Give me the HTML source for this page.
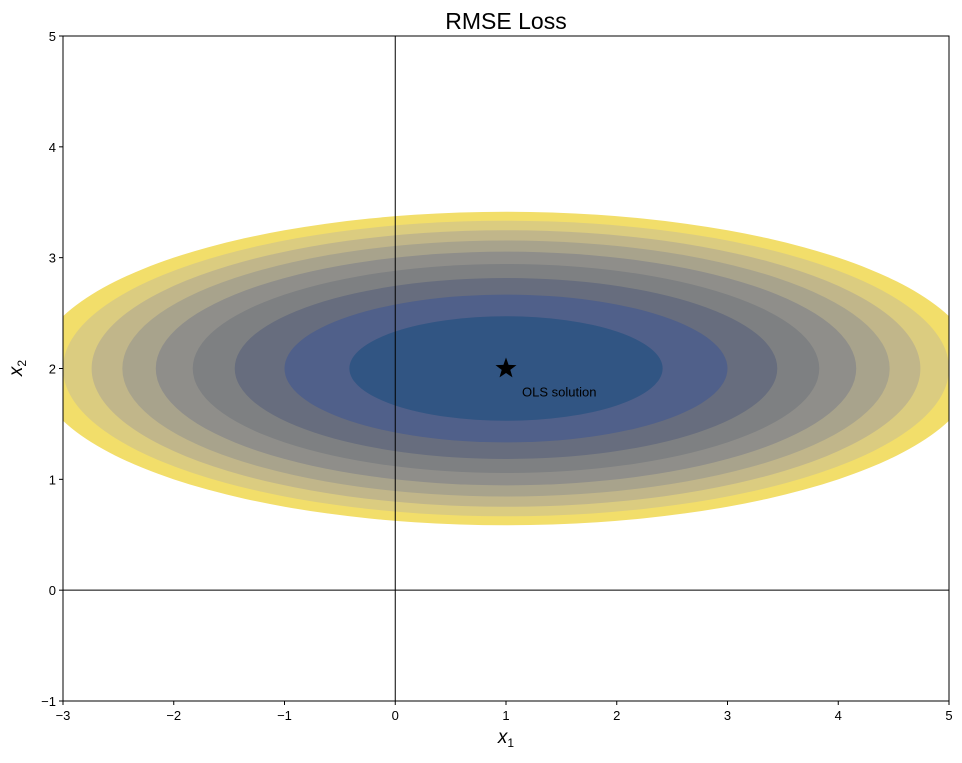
<!DOCTYPE html>
<html><head><meta charset="utf-8"><style>
body{margin:0;background:#fff;}
svg text{font-family:"Liberation Sans","DejaVu Sans",sans-serif;}
</style></head><body>
<svg id="chart" width="962" height="758" xmlns="http://www.w3.org/2000/svg">
<defs><clipPath id="plotclip"><rect x="63" y="36" width="886" height="665"/></clipPath></defs>
<g id="contours" clip-path="url(#plotclip)"></g>
<g id="axes"></g>
</svg>
<script>
const levels = [18, 16, 14, 12, 10, 8, 6, 4, 2];
const levelColors = ["#f2de6a","#dbcc80","#c1b68a","#a8a38c","#8f8e8a","#7e8082","#676d7e","#50608a","#315583"];
const center = [1, 2];
const xTicks = [-3,-2,-1,0,1,2,3,4,5];
const yTicks = [-1,0,1,2,3,4,5];
const ns = "http://www.w3.org/2000/svg";
const X0=63,X1=949,Y0=701,Y1=36;
const sx = v => X0 + (v - (-3)) / 8 * (X1 - X0);
const sy = v => Y0 - (v - (-1)) / 6 * (Y0 - Y1);
function mk(tag, attrs, parent){const e=document.createElementNS(ns,tag);for(const k in attrs)e.setAttribute(k,attrs[k]);parent.appendChild(e);return e;}
const cg=document.getElementById('contours');
levels.forEach((lv,i)=>{
  const rx=Math.sqrt(lv), ry=Math.sqrt(lv)/3;
  const e=mk('ellipse',{cx:sx(center[0]),cy:sy(center[1]),rx:sx(center[0]+rx)-sx(center[0]),ry:sy(center[1])-sy(center[1]+ry),fill:levelColors[i]},cg);
  
  
});
const ag=document.getElementById('axes');
let l=mk('line',{x1:sx(0),x2:sx(0),y1:Y1,y2:Y0,stroke:'#000','stroke-width':1},ag);


l=mk('line',{x1:X0,x2:X1,y1:sy(0),y2:sy(0),stroke:'#000','stroke-width':1},ag);


let r=mk('rect',{x:X0,y:Y1,width:X1-X0,height:Y0-Y1,fill:'none',stroke:'#000','stroke-width':1},ag);


xTicks.forEach(v=>{
  const x=sx(v);
  const t=mk('line',{x1:x,x2:x,y1:Y0,y2:Y0+4,stroke:'#000'},ag);
  
  
  const tx=mk('text',{x:x,y:Y0+19,'text-anchor':'middle','font-size':13},ag);
  tx.textContent=(v<0?'\u2212'+(-v):v);
  
  
});
yTicks.forEach(v=>{
  const y=sy(v);
  const t=mk('line',{x1:X0-4,x2:X0,y1:y,y2:y,stroke:'#000'},ag);
  
  
  const tx=mk('text',{x:X0-7,y:y+5,'text-anchor':'end','font-size':13},ag);
  tx.textContent=(v<0?'\u2212'+(-v):v);
  
  
});
const cx=sx(center[0]), cy=sy(center[1]);
let pts=[];for(let k=0;k<10;k++){const a=-Math.PI/2+k*Math.PI/5;const rr=k%2?4.5:11;pts.push((cx+rr*Math.cos(a)).toFixed(1)+','+(cy+rr*Math.sin(a)).toFixed(1));}
const st=mk('polygon',{points:pts.join(' '),fill:'#000'},ag);


const ol=mk('text',{x:cx+16,y:cy+28,'font-size':13},ag);
ol.textContent='OLS solution';


</script>
<svg style="position:absolute;left:0;top:0" width="962" height="758" xmlns="http://www.w3.org/2000/svg">
<text x="506" y="29" text-anchor="middle" font-size="23" font-family="Liberation Sans, sans-serif">RMSE Loss</text>
<text x="506" y="743" text-anchor="middle" font-size="19" font-style="italic" font-family="Liberation Serif, serif">x<tspan font-size="12" dy="4" font-style="normal">1</tspan></text>
<text transform="translate(22,368) rotate(-90)" text-anchor="middle" font-size="19" font-style="italic" font-family="Liberation Serif, serif">x<tspan font-size="12" dy="4" font-style="normal">2</tspan></text>
</svg>
</body></html>
